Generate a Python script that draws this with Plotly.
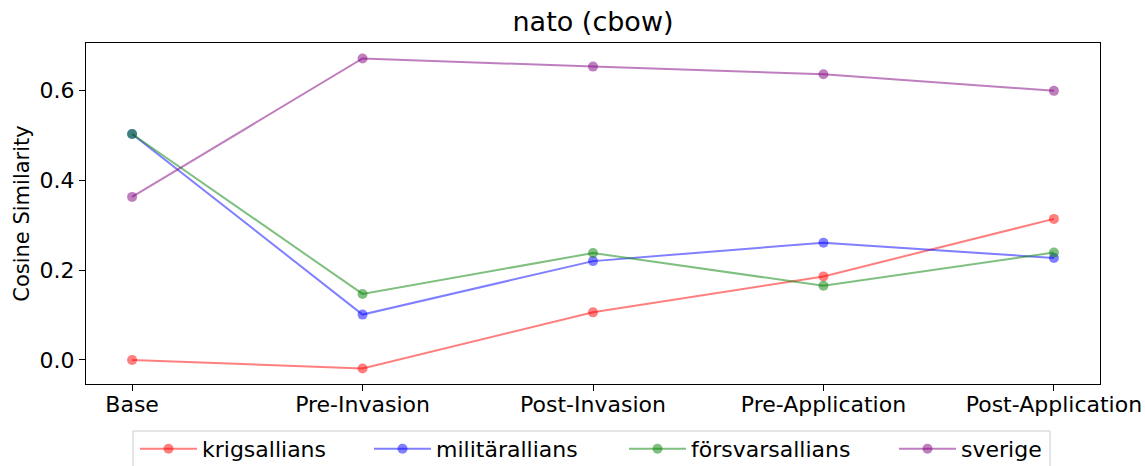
import plotly.graph_objects as go

# Periods on the x axis
periods = ["Base", "Pre-Invasion", "Post-Invasion", "Pre-Application", "Post-Application"]

# Cosine similarity of "nato" to each word, per period
krigsallians = [0.000, -0.019, 0.106, 0.186, 0.314]
militarallians = [0.503, 0.101, 0.220, 0.261, 0.227]
forsvarsallians = [0.503, 0.147, 0.238, 0.165, 0.239]
sverige = [0.363, 0.671, 0.653, 0.636, 0.599]

series = [
    ("krigsallians", krigsallians, "rgba(255,0,0,0.5)"),
    ("militärallians", militarallians, "rgba(0,0,255,0.5)"),
    ("försvarsallians", forsvarsallians, "rgba(0,128,0,0.5)"),
    ("sverige", sverige, "rgba(128,0,128,0.5)"),
]

W, H = 1145, 466
FONT = "DejaVu Sans"
ML, MR, MT, MB = 86, 45, 43, 82

# one legend per entry so each entry sits at its own horizontal spot
legend_keys = ["legend", "legend2", "legend3", "legend4"]
legend_left_px = [135, 369, 624, 894]

fig = go.Figure()
for (name, vals, col), key in zip(series, legend_keys):
    fig.add_trace(go.Scatter(
        x=periods, y=vals, name=name, mode="lines+markers",
        line=dict(color=col, width=2),
        marker=dict(color=col, size=10, line=dict(width=0)),
        legend=key,
    ))

# 5% padding around the data, like the default autoscale margins
all_vals = krigsallians + militarallians + forsvarsallians + sverige
lo, hi = min(all_vals), max(all_vals)
pad = 0.05 * (hi - lo)

legends = {}
for key, px in zip(legend_keys, legend_left_px):
    legends[key] = dict(
        orientation="h", x=px / W, xref="container", xanchor="left",
        y=1 - 449 / H, yref="container", yanchor="middle",
        itemwidth=57, borderwidth=0, bgcolor="rgba(0,0,0,0)",
        font=dict(family=FONT, size=22, color="black"),
    )

# legend frame (open at the bottom edge of the page)
plot_w = W - ML - MR
plot_h = H - MT - MB
bx0 = (133 - ML) / plot_w
bx1 = (1050 - ML) / plot_w
by1 = -(431 - (H - MB)) / plot_h
by0 = -(475 - (H - MB)) / plot_h

fig.update_layout(
    width=W, height=H,
    margin=dict(l=ML, r=MR, t=MT, b=MB, autoexpand=False),
    paper_bgcolor="white", plot_bgcolor="white",
    font=dict(family=FONT, size=22, color="black"),
    title=dict(text="nato (cbow)", x=0.5, xref="paper", xanchor="center",
               y=1 - 22 / H, yref="container", yanchor="middle",
               font=dict(size=27)),
    showlegend=True,
    shapes=[dict(type="rect", xref="paper", yref="paper",
                 x0=bx0, x1=bx1, y0=by0, y1=by1,
                 line=dict(color="#cccccc", width=1), fillcolor="white", layer="below")],
    **legends,
)
fig.update_xaxes(
    type="category", range=[-0.2, 4.2],
    showline=True, linecolor="black", linewidth=1, mirror=True,
    ticks="outside", ticklen=6, tickcolor="black", showgrid=False, zeroline=False,
    ticklabelstandoff=-5,
)
fig.update_yaxes(
    range=[lo - pad, hi + pad],
    tickvals=[0.0, 0.2, 0.4, 0.6], ticktext=["0.0", "0.2", "0.4", "0.6"],
    showline=True, linecolor="black", linewidth=1, mirror=True,
    ticks="outside", ticklen=6, tickcolor="black", showgrid=False, zeroline=False,
    title=dict(text="Cosine Similarity", standoff=4, font=dict(size=21)),
)

fig.write_html("out.html")
